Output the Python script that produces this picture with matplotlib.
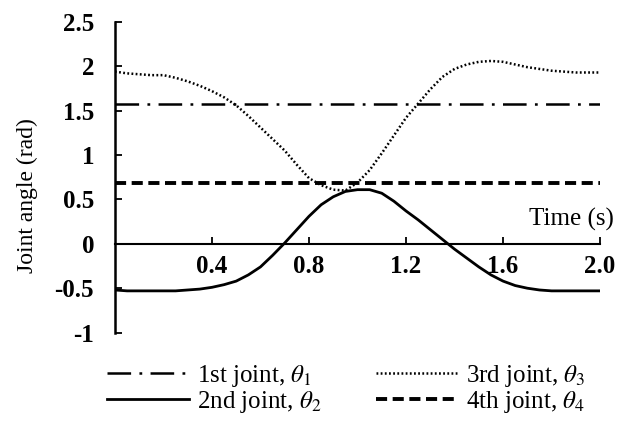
import matplotlib
matplotlib.use("Agg")
import matplotlib.pyplot as plt

plt.rcParams['font.family'] = ['Liberation Serif', 'DejaVu Serif']
plt.rcParams['mathtext.fontset'] = 'stix'
plt.rcParams['lines.scale_dashes'] = False

# time samples (s)
t = [0.0, 0.05, 0.1, 0.15, 0.2, 0.25, 0.3, 0.35, 0.4, 0.45, 0.5, 0.55, 0.6, 0.65,
     0.7, 0.75, 0.8, 0.85, 0.9, 0.95, 1.0, 1.05, 1.1, 1.15, 1.2, 1.25, 1.3, 1.35,
     1.4, 1.45, 1.5, 1.55, 1.6, 1.65, 1.7, 1.75, 1.8, 1.85, 1.9, 1.95, 2.0]

# joint angles (rad)
theta1 = [1.57] * len(t)
theta2 = [-0.52, -0.53, -0.53, -0.53, -0.53, -0.53, -0.52, -0.51, -0.49, -0.46, -0.42,
          -0.35, -0.26, -0.13, 0.01, 0.16, 0.31, 0.44, 0.53, 0.59, 0.61, 0.61, 0.57,
          0.48, 0.37, 0.27, 0.16, 0.05, -0.06, -0.16, -0.26, -0.35, -0.42, -0.47,
          -0.50, -0.52, -0.53, -0.53, -0.53, -0.53, -0.53]
theta3 = [1.94, 1.92, 1.91, 1.90, 1.90, 1.87, 1.83, 1.78, 1.72, 1.65, 1.56, 1.44, 1.31,
          1.18, 1.05, 0.89, 0.74, 0.66, 0.61, 0.60, 0.69, 0.83, 1.02, 1.22, 1.42, 1.58,
          1.74, 1.88, 1.97, 2.02, 2.05, 2.06, 2.05, 2.02, 1.99, 1.97, 1.95, 1.94, 1.93,
          1.93, 1.93]
theta4 = [0.69] * len(t)

xticks = [0.4, 0.8, 1.2, 1.6, 2.0]
xticklabels = ['0.4', '0.8', '1.2', '1.6', '2.0']
yticks = [-1, -0.5, 0, 0.5, 1, 1.5, 2, 2.5]
yticklabels = ['-1', '-0.5', '0', '0.5', '1', '1.5', '2', '2.5']

fig = plt.figure(figsize=(6.18, 4.21), dpi=100)
ax = fig.add_axes([0.186, 0.21, 0.785, 0.738])

l1, = ax.plot(t, theta1, color='black', lw=1.8, dashes=(17, 6, 2, 6))
l2, = ax.plot(t, theta2, color='black', lw=2.0)
l3, = ax.plot(t, theta3, color='black', lw=1.8, dashes=(1.3, 1.7))
l4, = ax.plot(t, theta4, color='black', lw=2.8, dashes=(8, 4))

ax.set_xlim(0, 2.0)
ax.set_ylim(-1, 2.5)
ax.spines['top'].set_visible(False)
ax.spines['right'].set_visible(False)
ax.spines['bottom'].set_position(('data', 0))
ax.spines['left'].set_linewidth(1.8)
ax.spines['bottom'].set_linewidth(1.5)

ax.set_xticks(xticks)
ax.set_xticklabels(xticklabels, fontsize=18, fontweight='bold')
ax.set_yticks(yticks)
ax.set_yticklabels(yticklabels, fontsize=18, fontweight='bold')
ax.tick_params(axis='x', direction='in', length=5, width=1.3, pad=8)
ax.tick_params(axis='y', direction='in', length=5, width=1.3, pad=15)

ax.set_ylabel('Joint angle (rad)', fontsize=17)
ax.yaxis.set_label_coords(-0.158, 0.44)
ax.text(2.058, 0.21, 'Time (s)', fontsize=18, ha='right', va='baseline')

fig.legend([l1, l2, l3, l4],
           [r'1st joint, $\theta_1$', r'2nd joint, $\theta_2$',
            r'3rd joint, $\theta_3$', r'4th joint, $\theta_4$'],
           ncol=2, loc='lower left', bbox_to_anchor=(0.173, 0.015),
           borderpad=0, borderaxespad=0,
           frameon=False, fontsize=18, handlelength=3.3, handletextpad=0.3,
           columnspacing=2.2, labelspacing=0.0)

fig.savefig('out.png', dpi=100)
